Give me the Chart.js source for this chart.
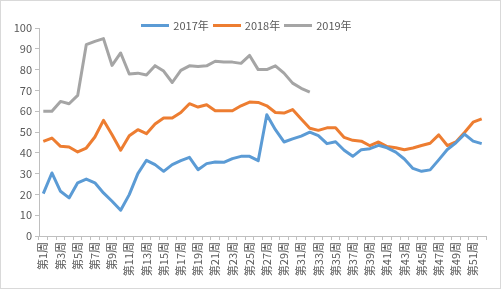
<!DOCTYPE html>
<html>
<head>
<meta charset="utf-8">
<script src="https://cdn.jsdelivr.net/npm/chart.js@4.4.0/dist/chart.umd.min.js"></script>
<style>
  html, body { margin: 0; padding: 0; background: #fff; }
  #wrap { width: 501px; height: 289px; position: relative; }
  #frame { position: absolute; left: 0; top: 0; width: 501px; height: 289px; box-sizing: border-box;
           border: 1px solid #d9d9d9; pointer-events: none; }
  #legend { position: absolute; left: 0; top: 19px; width: 493px; height: 12px; display: flex;
            justify-content: center; align-items: center; font: 11px 'Noto Sans CJK SC', 'Noto Sans', sans-serif;
            color: #595959; }
  #legend .item { display: flex; align-items: center; margin: 0 2px; }
  #legend .swatch { width: 28px; height: 3px; margin-right: 4px; }
</style>
</head>
<body>
<div id="wrap">
  <canvas id="chart"></canvas>
  <div id="legend"></div>
  <div id="frame"></div>
</div>
<script>
// Week labels 第1周 .. 第52周
const weeks = [];
for (let i = 1; i <= 52; i++) weeks.push('第' + i + '周');

const y2017 = [20.4, 30.3, 21.5, 18.3, 25.6, 27.4, 25.6, 20.7, 16.7, 12.4,
               19.9, 30.0, 36.4, 34.3, 31.1, 34.3, 36.2, 37.8, 31.9, 34.8,
               35.6, 35.4, 37.2, 38.3, 38.3, 36.2, 58.3, 51.1, 45.2, 46.7,
               48.0, 49.9, 48.3, 44.4, 45.3, 41.2, 38.3, 41.5, 42.0, 43.6,
               42.4, 40.3, 37.0, 32.5, 31.1, 31.8, 36.6, 41.6, 44.8, 49.0,
               45.6, 44.4];
const y2018 = [45.5, 47.1, 43.1, 42.8, 40.4, 42.3, 47.6, 55.6, 48.7, 41.2,
               48.2, 51.1, 49.2, 53.8, 56.7, 56.7, 59.4, 63.6, 62.0, 63.1,
               60.2, 60.2, 60.2, 62.6, 64.4, 64.2, 62.6, 59.4, 59.1, 60.8,
               56.3, 51.8, 50.8, 52.0, 52.0, 47.4, 46.0, 45.6, 43.4, 45.2,
               43.0, 42.4, 41.5, 42.3, 43.5, 44.6, 48.6, 43.5, 45.2, 49.8,
               54.7, 56.3];
const y2019 = [60.0, 60.0, 64.7, 63.6, 67.6, 92.0, 93.6, 94.9, 82.0, 88.0,
               77.9, 78.3, 77.4, 81.9, 79.3, 73.8, 79.6, 81.8, 81.5, 81.8,
               84.0, 83.6, 83.6, 83.0, 86.8, 80.0, 80.0, 81.8, 78.3, 73.5,
               71.0, 69.2];

const seriesNames = ['2017年', '2018年', '2019年'];
const seriesColors = ['#5b9bd5', '#ed7d31', '#a5a5a5'];
const yTickStep = 10;

const txt = '#595959';
const axisColor = '#bfbfbf';
const font = { family: "'Noto Sans CJK SC', 'Noto Sans', sans-serif", size: 11 };

function line(label, data, color) {
    return {
        label: label,
        data: data,
        borderColor: color,
        backgroundColor: color,
        borderWidth: 3,
        pointRadius: 0,
        tension: 0,
        borderJoinStyle: 'round'
    };
}

const chart = new Chart(document.getElementById('chart'), {
    type: 'line',
    data: {
        labels: weeks,
        datasets: [
            line(seriesNames[0], y2017, seriesColors[0]),
            line(seriesNames[1], y2018, seriesColors[1]),
            line(seriesNames[2], y2019, seriesColors[2])
        ]
    },
    options: {
        responsive: true,
        maintainAspectRatio: false,
        animation: false,
        layout: { padding: { left: 0, right: 15, top: 28, bottom: 0 } },
        plugins: {
            legend: { display: false },
            tooltip: { enabled: false }
        },
        scales: {
            x: {
                offset: true,
                afterFit: (s) => { s.height = 53; },
                grid: {
                    offset: true,
                    drawOnChartArea: false,
                    drawTicks: true,
                    tickLength: 4,
                    color: axisColor
                },
                border: { color: axisColor },
                ticks: {
                    color: txt,
                    font: font,
                    autoSkip: false,
                    minRotation: 90,
                    maxRotation: 90,
                    padding: 2,
                    callback: function(v, i) { return i % 2 === 0 ? this.getLabelForValue(v) : ''; }
                }
            },
            y: {
                min: 0,
                max: 100,
                afterFit: (s) => { s.width = 39; },
                ticks: { stepSize: yTickStep, color: txt, font: font, padding: 3 },
                grid: {
                    drawOnChartArea: false,
                    drawTicks: true,
                    tickLength: 4,
                    color: axisColor
                },
                border: { color: axisColor }
            }
        }
    }
});

// HTML legend built from the datasets
const legendEl = document.getElementById('legend');
chart.data.datasets.forEach(ds => {
    const item = document.createElement('div');
    item.className = 'item';
    item.innerHTML = `<span class="swatch" style="background:${ds.borderColor}"></span><span>${ds.label}</span>`;
    legendEl.appendChild(item);
});
</script>
</body>
</html>
